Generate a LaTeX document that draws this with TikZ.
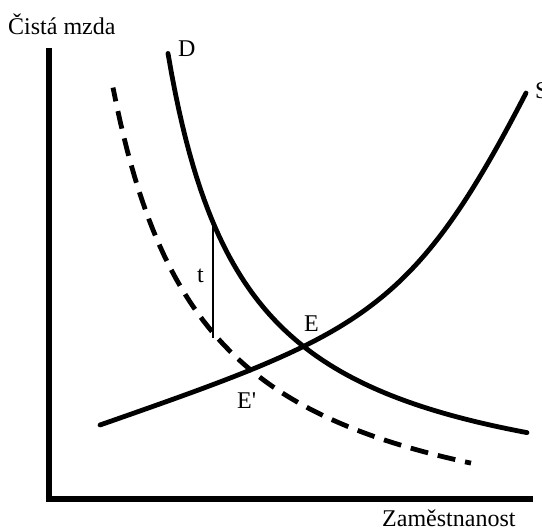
\documentclass[tikz,border=0pt]{standalone}
\usepackage{fontspec}
\setmainfont{Liberation Serif}
\begin{document}
\begin{tikzpicture}[x=1pt,y=-1pt,
  lbl/.style={inner sep=0pt,anchor=base west,font=\fontsize{24}{28}\selectfont},
  curve/.style={line width=4.8pt,line cap=round},
  dcurve/.style={line width=4.8pt,dash pattern=on 18pt off 10pt,dash phase=4pt},
  axis/.style={line width=6pt}]
\useasboundingbox (0,0) rectangle (542,532);
% axes
\coordinate (top) at (49,48);
\coordinate (org) at (49,499);
\coordinate (right) at (533,499);
\draw[axis] (top) -- (org) -- (right);
\node[lbl] (ylab) at (8,35) {Čistá mzda};
\node[lbl] (xlab) at (382,526) {Zaměstnanost};
% demand D
\draw[curve] plot[domain=168:527,samples=100] (\x,{515-360/((\x-90)/100)});
% shifted demand (dashed)
\draw[dcurve] plot[domain=113:471,samples=100] (\x,{560.7-440/((\x-20)/100)});
% supply S
\coordinate (s0) at (100,425);
\coordinate (s1) at (526,93);
\draw[curve] (s0) .. controls (360,334) and (411,315.5) .. (s1);
% tax wedge
\coordinate (ttop) at (213,222);
\coordinate (tbot) at (213,338);
\draw[line width=2pt] (ttop) -- (tbot);
\node[lbl] (t) at (197,283) {t};
\node[lbl] (D) at (178,57) {D};
\node[lbl] (S) at (535,99) {S};
\node[lbl] (E) at (304,332) {E};
\node[lbl] (Ep) at (237,409) {E\textquotesingle};
\end{tikzpicture}
\end{document}
